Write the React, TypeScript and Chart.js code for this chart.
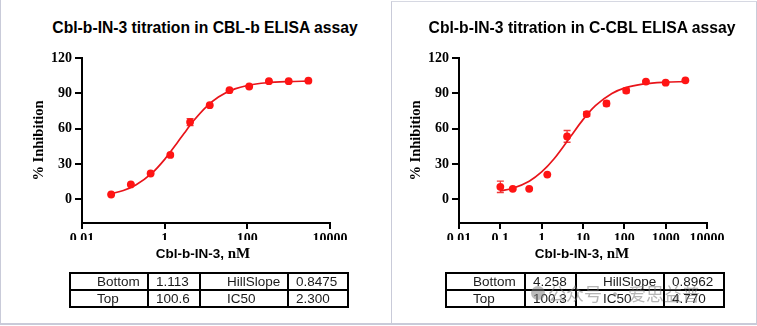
import React, { useEffect, useRef } from 'react';
import { Chart, registerables } from 'chart.js';
Chart.register(...registerables);

// ---- data ----
const leftConc = [0.0508, 0.152, 0.457, 1.37, 4.12, 12.3, 37, 111, 333, 1000, 3000];
const leftInhib = [4.2, 12.7, 22.0, 37.8, 65.6, 80.0, 92.7, 95.8, 100.3, 100.3, 100.8];
const leftErr = [0.6, 0.6, 0.6, 0.6, 3.0, 0.6, 0.6, 0.6, 0.6, 0.6, 0.6];
const leftFitConc = [0.05, 0.1, 0.2, 0.5, 1, 2, 3, 5, 10, 20, 50, 100, 300, 1000, 3000];
const leftFitInhib = [4.8, 7.6, 12.3, 22.5, 34.0, 47.9, 56.4, 66.7, 78.4, 86.9, 93.8, 96.7, 99.0, 100.0, 100.4];
const leftTitle = 'Cbl-b-IN-3 titration in CBL-b ELISA assay';
const leftXTicks = [0.01, 1, 100, 10000];
const leftXLabels = ['0.01', '1', '100', '10000'];
const leftParams = [
  ['Bottom', '1.113', 'HillSlope', '0.8475'],
  ['Top', '100.6', 'IC50', '2.300'],
];

const rightConc = [0.1, 0.2, 0.5, 1.37, 4.12, 12.3, 37, 111, 333, 1000, 3000];
const rightInhib = [10.7, 9.0, 9.0, 21.1, 53.5, 72.4, 81.4, 92.4, 100.0, 99.1, 101.1];
const rightErr = [4.8, 0.6, 0.6, 0.6, 5.0, 2.0, 2.0, 2.0, 0.6, 0.6, 0.6];
const rightFitConc = [0.1, 0.2, 0.5, 1, 2, 5, 10, 20, 50, 100, 300, 1000, 3000];
const rightFitInhib = [7.2, 9.5, 15.5, 23.3, 34.5, 53.3, 67.7, 79.5, 89.9, 94.4, 98.0, 99.5, 100.0];
const rightTitle = 'Cbl-b-IN-3 titration in C-CBL ELISA assay';
const rightXTicks = [0.01, 0.1, 1, 10, 100, 1000, 10000];
const rightXLabels = ['0.01', '0.1', '1', '10', '100', '1000', '10000'];
const rightParams = [
  ['Bottom', '4.258', 'HillSlope', '0.8962'],
  ['Top', '100.3', 'IC50', '4.770'],
];

const yTicks = [0, 30, 60, 90, 120];

const SANS = "'Liberation Sans', Arial, sans-serif";
const SERIF = "'Liberation Serif', 'Times New Roman', serif";
const PT = '#ff1414';
const LINE = '#e8141a';
const ERR = '#f03a3a';

type PanelProps = {
  x: number;
  title: string;
  conc: number[];
  inhib: number[];
  err: number[];
  fitConc: number[];
  fitInhib: number[];
  xTicks: number[];
  xLabels: string[];
  params: string[][];
  colW: number[];
  tableLeft: number;
  xTitleCenter: number;
};

function Panel(p: PanelProps) {
  const ref = useRef<HTMLCanvasElement | null>(null);
  useEffect(() => {
    if (!ref.current) return;
    const errPlugin = {
      id: 'errbars',
      beforeDatasetsDraw(chart: any) {
        const ctx = chart.ctx;
        const xs = chart.scales.x;
        const ys = chart.scales.y;
        ctx.save();
        ctx.strokeStyle = ERR;
        ctx.lineWidth = 1.3;
        p.conc.forEach((c, i) => {
          const px = xs.getPixelForValue(c);
          const y1 = ys.getPixelForValue(p.inhib[i] + p.err[i]);
          const y2 = ys.getPixelForValue(p.inhib[i] - p.err[i]);
          ctx.beginPath();
          ctx.moveTo(px, y1);
          ctx.lineTo(px, y2);
          ctx.moveTo(px - 3.5, y1);
          ctx.lineTo(px + 3.5, y1);
          ctx.moveTo(px - 3.5, y2);
          ctx.lineTo(px + 3.5, y2);
          ctx.stroke();
        });
        ctx.restore();
      },
    };
    const chart = new Chart(ref.current, {
      type: 'scatter',
      data: {
        datasets: [
          {
            data: p.fitConc.map((x, i) => ({ x, y: p.fitInhib[i] })),
            showLine: true,
            pointRadius: 0,
            borderColor: LINE,
            borderWidth: 1.7,
            cubicInterpolationMode: 'monotone',
            order: 2,
          } as any,
          {
            data: p.conc.map((x, i) => ({ x, y: p.inhib[i] })),
            showLine: false,
            pointRadius: 3.9,
            backgroundColor: PT,
            borderColor: PT,
            borderWidth: 0,
            order: 1,
          },
        ],
      },
      options: {
        animation: false,
        responsive: false,
        maintainAspectRatio: false,
        layout: { padding: { top: 58, left: 0, right: 48, bottom: 20 } },
        plugins: { legend: { display: false }, tooltip: { enabled: false }, title: { display: false } },
        scales: {
          x: {
            type: 'logarithmic',
            min: 0.01,
            max: 10000,
            afterBuildTicks: (s: any) => {
              s.ticks = p.xTicks.map((v) => ({ value: v, major: false }));
            },
            afterFit: (s: any) => {
              s.height = 17;
            },
            ticks: {
              callback: (_v: any, i: number) => p.xLabels[i],
              font: { family: SERIF, size: 14, weight: 700, lineHeight: 1 },
              major: { enabled: false },
              color: '#000',
              padding: 3,
              maxRotation: 0,
              minRotation: 0,
              autoSkip: false,
            },
            grid: { drawOnChartArea: false, tickLength: 6, color: '#000', lineWidth: 2 },
            border: { color: '#000', width: 2 },
          } as any,
          y: {
            type: 'linear',
            min: -20,
            max: 120,
            afterBuildTicks: (s: any) => {
              s.ticks = yTicks.map((v) => ({ value: v }));
            },
            afterFit: (s: any) => {
              s.width = 82;
            },
            ticks: {
              font: { family: SERIF, size: 14, weight: 700 },
              color: '#000',
              padding: 3,
            },
            grid: { drawOnChartArea: false, tickLength: 7, color: '#000', lineWidth: 2 },
            border: { color: '#000', width: 2 },
            title: {
              display: true,
              text: '% Inhibition',
              font: { family: SERIF, size: 14.5, weight: 700 },
              color: '#000',
              padding: { top: 31, bottom: 0 },
            },
          } as any,
        },
      },
      plugins: [errPlugin],
    });
    return () => chart.destroy();
  }, []);

  const tableW = p.colW.reduce((a, b) => a + b, 0);
  return (
    <div style={{ position: 'absolute', left: p.x, top: 0, width: 378, height: 326 }}>
      <div
        style={{
          position: 'absolute',
          left: 5,
          width: 400,
          top: 19,
          textAlign: 'center',
          font: `bold 15.7px ${SANS}`,
          lineHeight: '18px',
          color: '#000',
          whiteSpace: 'nowrap',
        }}
      >
        {p.title}
      </div>
      <canvas ref={ref} width={378} height={260} style={{ position: 'absolute', left: 0, top: 0, width: 378, height: 260 }} />
      <div
        style={{
          position: 'absolute',
          left: p.xTitleCenter - 100,
          width: 200,
          top: 244,
          textAlign: 'center',
          lineHeight: '17px',
          whiteSpace: 'nowrap',
          color: '#000',
        }}
      >
        <span style={{ font: `bold 13.5px ${SANS}` }}>Cbl-b-IN-3,</span>
        <span style={{ font: `bold 15px ${SERIF}` }}> nM</span>
      </div>
      <table
        style={{
          position: 'absolute',
          left: p.tableLeft,
          top: 272,
          width: tableW,
          borderCollapse: 'collapse',
          tableLayout: 'fixed',
          font: `13.5px ${SANS}`,
          color: '#1a1a1a',
        }}
      >
        <colgroup>
          {p.colW.map((w, i) => (
            <col key={i} style={{ width: w }} />
          ))}
        </colgroup>
        <tbody>
          {p.params.map((row, r) => (
            <tr key={r} style={{ height: 17 }}>
              {row.map((cell, c) => (
                <td
                  key={c}
                  style={{
                    border: '2px solid #000',
                    padding: 0,
                    paddingLeft: c % 2 === 0 ? 26 : 7,
                    lineHeight: '14px',
                    height: 14,
                    whiteSpace: 'nowrap',
                    overflow: 'hidden',
                  }}
                >
                  {cell}
                </td>
              ))}
            </tr>
          ))}
        </tbody>
      </table>
    </div>
  );
}

export default function App() {
  return (
    <div style={{ position: 'fixed', left: 0, top: 0, width: 757, height: 326, background: '#fff', overflow: 'hidden' }}>
      {/* panel frames */}
      <div style={{ position: 'absolute', left: 0, top: 0, width: 1, height: 324, background: '#c9cbd9' }} />
      <div style={{ position: 'absolute', left: 0, top: 323, width: 757, height: 2, background: '#c9cbd9' }} />
      <div style={{ position: 'absolute', left: 391, top: 1, width: 364, height: 322, borderLeft: '1.5px solid #c9cbd9', borderRight: '1.5px solid #c9cbd9', borderTop: '1px solid #d6d8e2' }} />
      <Panel
        x={0}
        title={leftTitle}
        conc={leftConc}
        inhib={leftInhib}
        err={leftErr}
        fitConc={leftFitConc}
        fitInhib={leftFitInhib}
        xTicks={leftXTicks}
        xLabels={leftXLabels}
        params={leftParams}
        colW={[78, 52, 88, 60]}
        tableLeft={69}
        xTitleCenter={203}
      />
      <Panel
        x={377}
        title={rightTitle}
        conc={rightConc}
        inhib={rightInhib}
        err={rightErr}
        fitConc={rightFitConc}
        fitInhib={rightFitInhib}
        xTicks={rightXTicks}
        xLabels={rightXLabels}
        params={rightParams}
        colW={[79, 51, 88, 60]}
        tableLeft={68}
        xTitleCenter={205}
      />
      <div
        style={{
          position: 'absolute',
          left: 531,
          top: 283,
          height: 20,
          display: 'flex',
          alignItems: 'center',
          color: 'rgba(120,120,120,0.55)',
          font: `18px 'Noto Sans CJK SC', sans-serif`,
          whiteSpace: 'nowrap',
          pointerEvents: 'none',
        }}
      >
        <span style={{ display: 'inline-block', width: 14, height: 14, borderRadius: 7, background: 'rgba(120,120,120,0.5)', marginRight: 3 }} />
        <span>公众号 · 爱思益普</span>
      </div>
    </div>
  );
}
